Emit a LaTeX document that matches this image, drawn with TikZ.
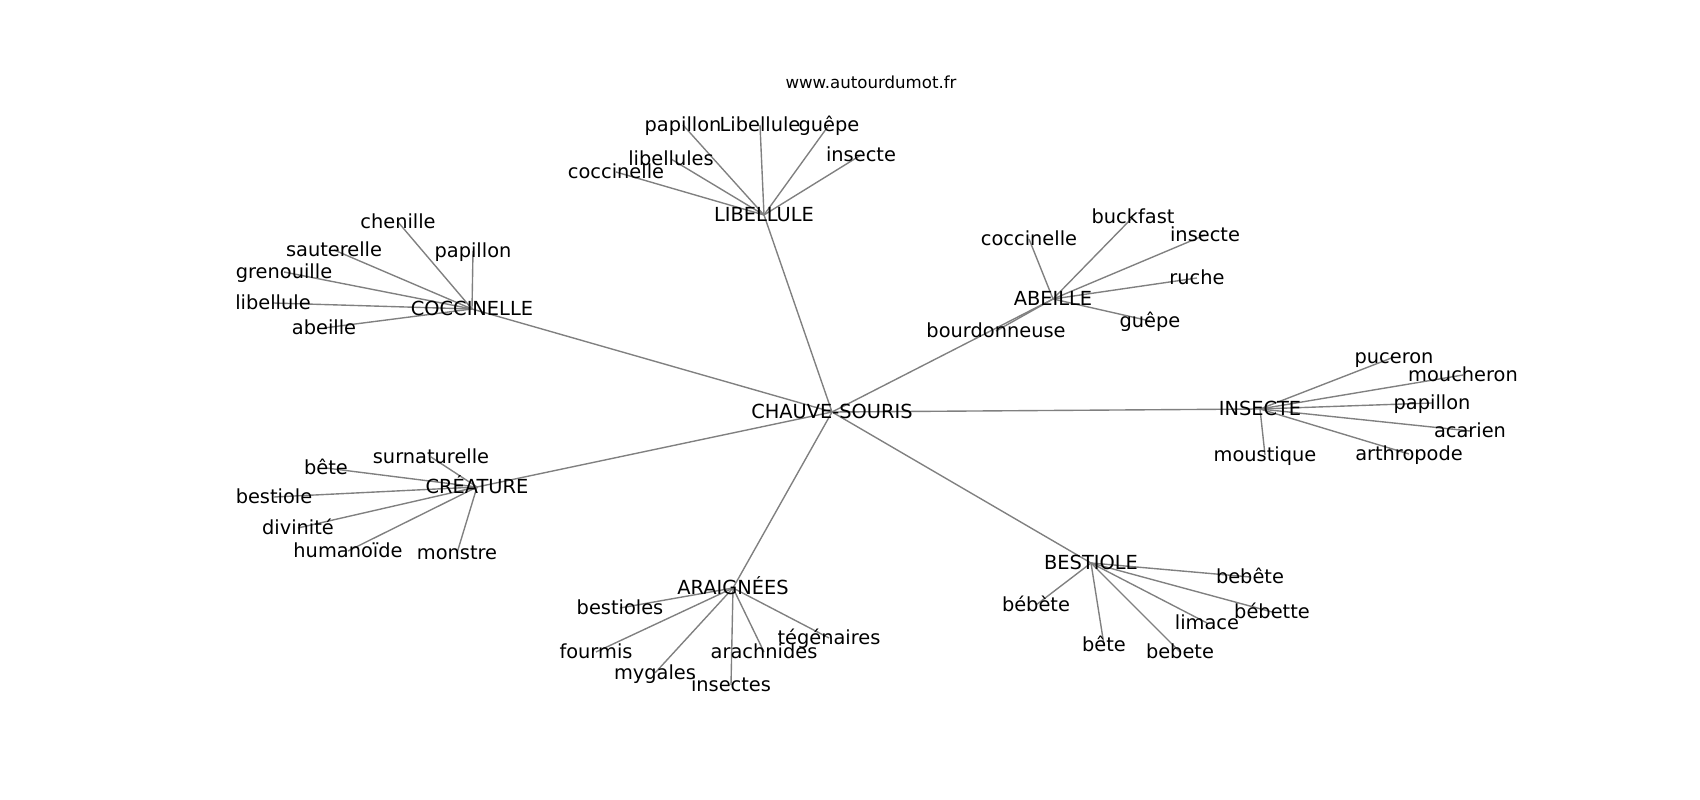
\documentclass[tikz,border=0pt]{standalone}
\usepackage{fontspec}
\setmainfont{DejaVu Sans}
\usetikzlibrary{backgrounds}
\tikzset{
  word/.style={inner sep=0pt,font=\fontsize{14}{17}\selectfont,text height=10pt,text depth=0pt},
  site/.style={inner sep=0pt,font=\fontsize{12}{14}\selectfont,text height=8.6pt,text depth=0pt},
  link/.style={draw=gray,line width=1pt}
}
\begin{document}
\begin{tikzpicture}[x=0.01in,y=-0.01in]
\useasboundingbox (0,-2) rectangle (1700,798);
\node[site] (www) at (871,81) {www.autourdumot.fr};
\node[word] (cs) at (832,410) {CHAUVE-SOURIS};
\node[word] (cocc) at (472,307) {COCCINELLE};
\node[word] (libl) at (764,213) {LIBELLULE};
\node[word] (abei) at (1053,297) {ABEILLE};
\node[word] (inse) at (1260,407) {INSECTE};
\node[word] (best) at (1091,561) {BESTIOLE};
\node[word] (arai) at (733,586) {ARAIGNÉES};
\node[word] (crea) at (477,485) {CRÉATURE};
\node[word] (c1) at (398,220) {chenille};
\node[word] (c2) at (334,248) {sauterelle};
\node[word] (c3) at (473,249) {papillon};
\node[word] (c4) at (284,270) {grenouille};
\node[word] (c5) at (273,301) {libellule};
\node[word] (c6) at (324,326) {abeille};
\node[word] (l1) at (683,123) {papillon};
\node[word] (l2) at (760,123) {Libellule};
\node[word] (l3) at (829,123) {guêpe};
\node[word] (l4) at (861,153) {insecte};
\node[word] (l5) at (671,157) {libellules};
\node[word] (l6) at (616,170) {coccinelle};
\node[word] (a1) at (1133,215) {buckfast};
\node[word] (a2) at (1029,237) {coccinelle};
\node[word] (a3) at (1205,233) {insecte};
\node[word] (a4) at (1197,276) {ruche};
\node[word] (a5) at (1150,319) {guêpe};
\node[word] (a6) at (996,329) {bourdonneuse};
\node[word] (i1) at (1394,355) {puceron};
\node[word] (i2) at (1463,373) {moucheron};
\node[word] (i3) at (1432,401) {papillon};
\node[word] (i4) at (1470,429) {acarien};
\node[word] (i5) at (1409,452) {arthropode};
\node[word] (i6) at (1265,453) {moustique};
\node[word] (b1) at (1250,575) {bebête};
\node[word] (b2) at (1036,603) {bébète};
\node[word] (b3) at (1272,610) {bébette};
\node[word] (b4) at (1207,621) {limace};
\node[word] (b5) at (1104,643) {bête};
\node[word] (b6) at (1180,650) {bebete};
\node[word] (r1) at (620,606) {bestioles};
\node[word] (r2) at (596,650) {fourmis};
\node[word] (r3) at (764,650) {arachnides};
\node[word] (r4) at (829,636) {tégénaires};
\node[word] (r5) at (655,671) {mygales};
\node[word] (r6) at (731,683) {insectes};
\node[word] (k1) at (431,455) {surnaturelle};
\node[word] (k2) at (326,466) {bête};
\node[word] (k3) at (274,495) {bestiole};
\node[word] (k4) at (298,526) {divinité};
\node[word] (k5) at (348,549) {humanoïde};
\node[word] (k6) at (457,551) {monstre};
\begin{scope}[on background layer]
\draw[link] (cs.center) -- (cocc.center);
\draw[link] (cs.center) -- (libl.center);
\draw[link] (cs.center) -- (abei.center);
\draw[link] (cs.center) -- (inse.center);
\draw[link] (cs.center) -- (best.center);
\draw[link] (cs.center) -- (arai.center);
\draw[link] (cs.center) -- (crea.center);
\draw[link] (cocc.center) -- (c1.center);
\draw[link] (cocc.center) -- (c2.center);
\draw[link] (cocc.center) -- (c3.center);
\draw[link] (cocc.center) -- (c4.center);
\draw[link] (cocc.center) -- (c5.center);
\draw[link] (cocc.center) -- (c6.center);
\draw[link] (libl.center) -- (l1.center);
\draw[link] (libl.center) -- (l2.center);
\draw[link] (libl.center) -- (l3.center);
\draw[link] (libl.center) -- (l4.center);
\draw[link] (libl.center) -- (l5.center);
\draw[link] (libl.center) -- (l6.center);
\draw[link] (abei.center) -- (a1.center);
\draw[link] (abei.center) -- (a2.center);
\draw[link] (abei.center) -- (a3.center);
\draw[link] (abei.center) -- (a4.center);
\draw[link] (abei.center) -- (a5.center);
\draw[link] (abei.center) -- (a6.center);
\draw[link] (inse.center) -- (i1.center);
\draw[link] (inse.center) -- (i2.center);
\draw[link] (inse.center) -- (i3.center);
\draw[link] (inse.center) -- (i4.center);
\draw[link] (inse.center) -- (i5.center);
\draw[link] (inse.center) -- (i6.center);
\draw[link] (best.center) -- (b1.center);
\draw[link] (best.center) -- (b2.center);
\draw[link] (best.center) -- (b3.center);
\draw[link] (best.center) -- (b4.center);
\draw[link] (best.center) -- (b5.center);
\draw[link] (best.center) -- (b6.center);
\draw[link] (arai.center) -- (r1.center);
\draw[link] (arai.center) -- (r2.center);
\draw[link] (arai.center) -- (r3.center);
\draw[link] (arai.center) -- (r4.center);
\draw[link] (arai.center) -- (r5.center);
\draw[link] (arai.center) -- (r6.center);
\draw[link] (crea.center) -- (k1.center);
\draw[link] (crea.center) -- (k2.center);
\draw[link] (crea.center) -- (k3.center);
\draw[link] (crea.center) -- (k4.center);
\draw[link] (crea.center) -- (k5.center);
\draw[link] (crea.center) -- (k6.center);
\end{scope}
\end{tikzpicture}
\end{document}
